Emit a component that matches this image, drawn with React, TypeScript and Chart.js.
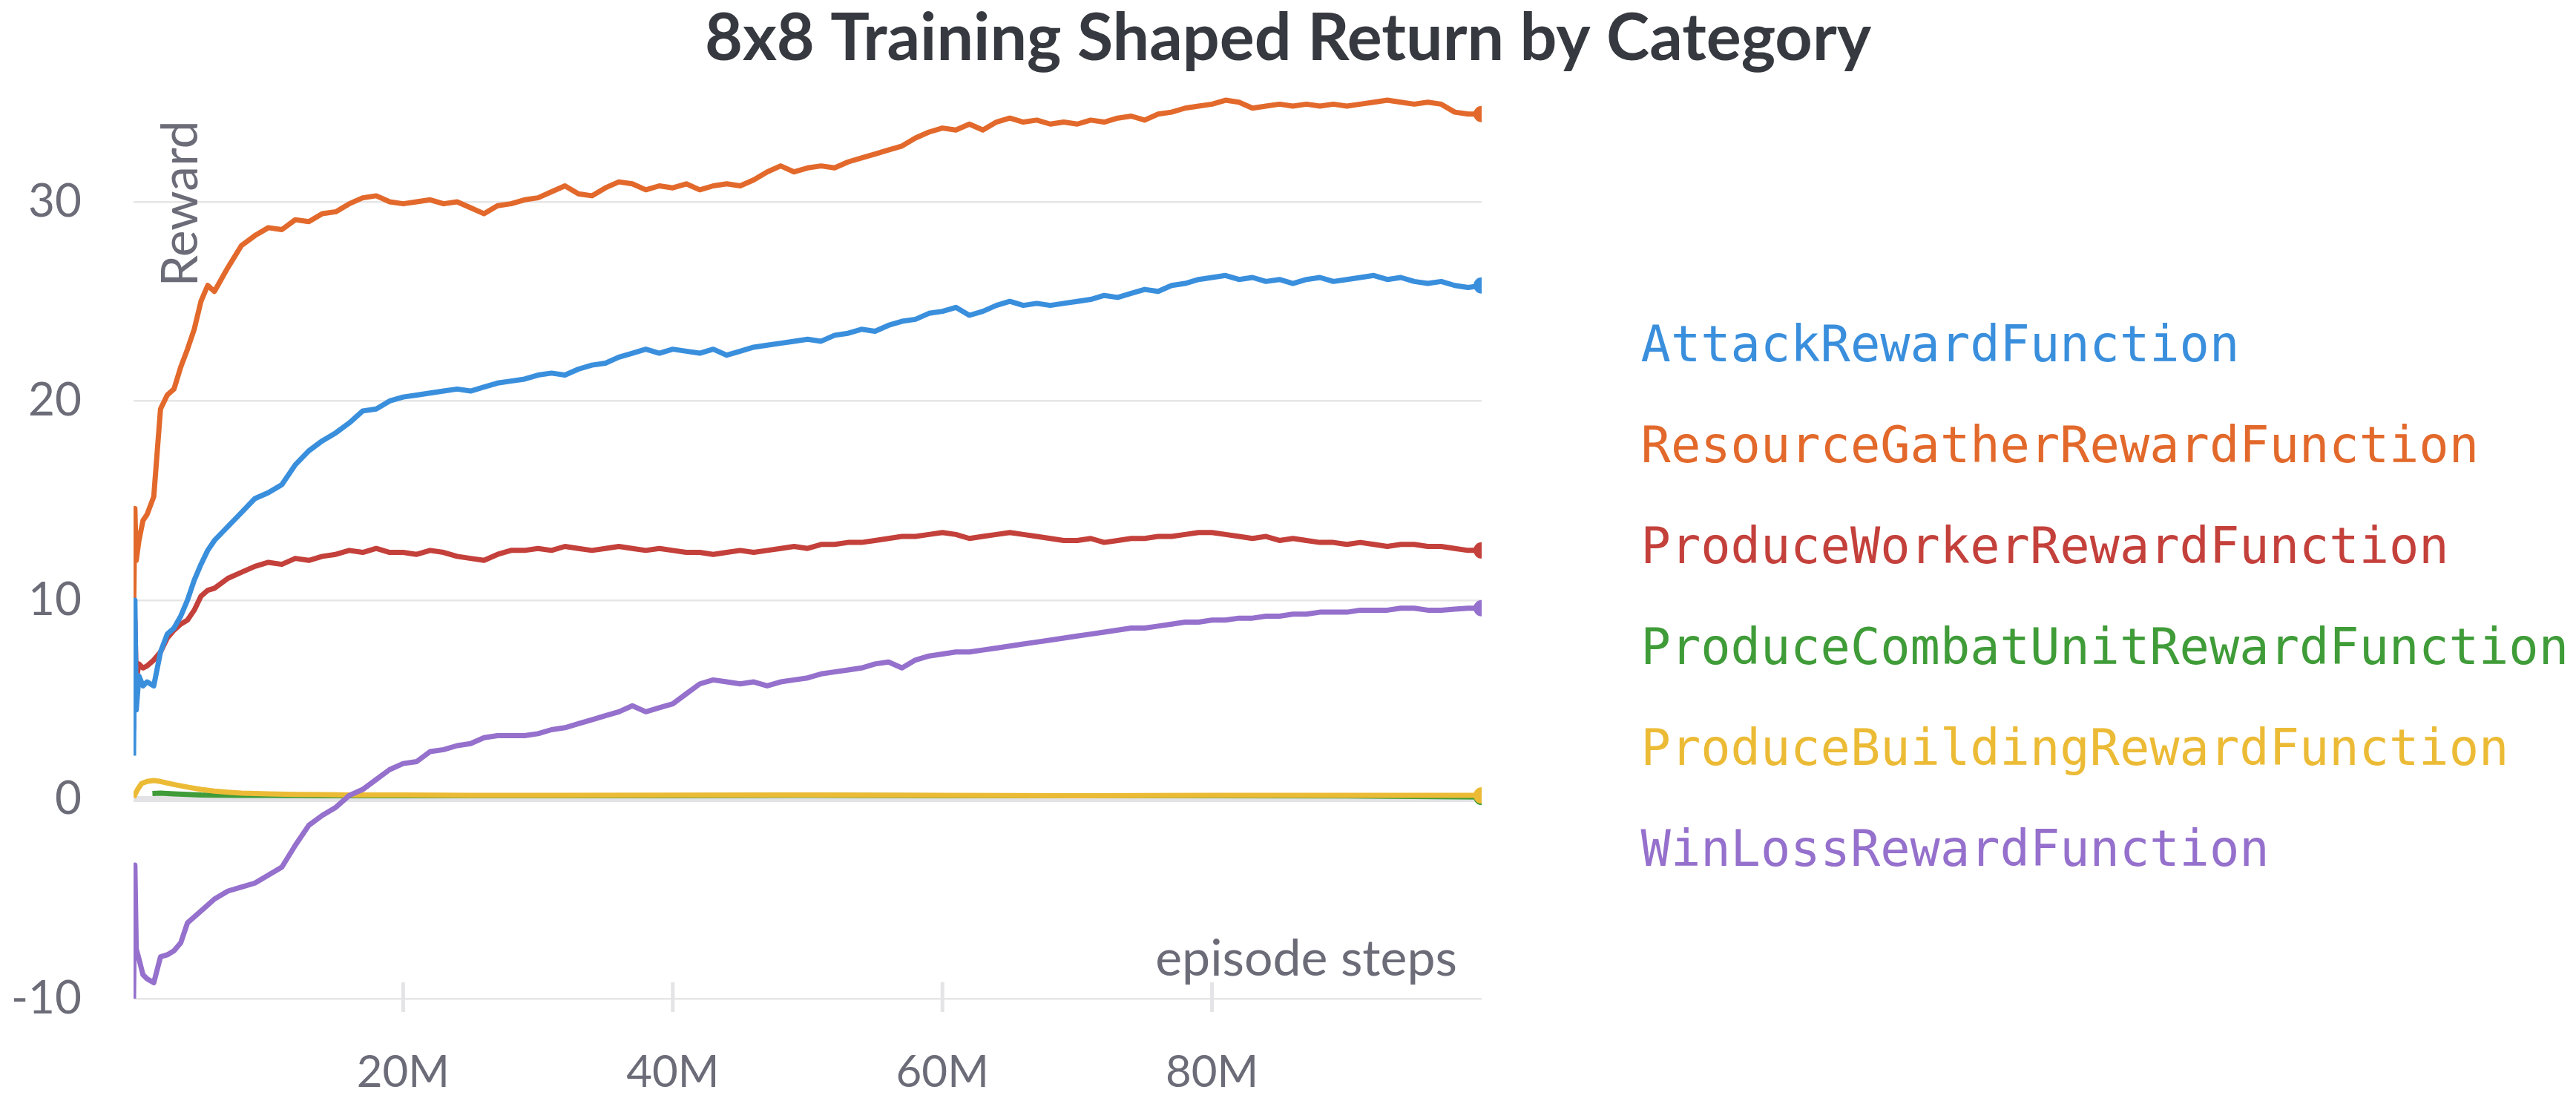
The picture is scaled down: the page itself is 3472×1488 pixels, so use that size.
import React, { useEffect, useRef } from 'react';
import { Chart, registerables } from 'chart.js';

Chart.register(...registerables);

// episode steps, in millions
const steps = [
  0, 0.1, 0.2, 0.4, 0.7, 1, 1.5, 2, 2.5, 3, 3.5, 4, 4.5, 5, 5.5, 6,
  7, 8, 9, 10, 11, 12, 13, 14, 15, 16, 17, 18, 19, 20,
  21, 22, 23, 24, 25, 26, 27, 28, 29, 30,
  31, 32, 33, 34, 35, 36, 37, 38, 39, 40,
  41, 42, 43, 44, 45, 46, 47, 48, 49, 50,
  51, 52, 53, 54, 55, 56, 57, 58, 59, 60,
  61, 62, 63, 64, 65, 66, 67, 68, 69, 70,
  71, 72, 73, 74, 75, 76, 77, 78, 79, 80,
  81, 82, 83, 84, 85, 86, 87, 88, 89, 90,
  91, 92, 93, 94, 95, 96, 97, 98, 99, 100,
];

const attack = [
  2.2, 10.0, 4.5, 6.2, 5.7, 5.9, 5.7, 7.4, 8.3, 8.6, 9.2, 10.0, 11.0, 11.8, 12.5, 13.0,
  13.7, 14.4, 15.1, 15.4, 15.8, 16.8, 17.5, 18.0, 18.4, 18.9, 19.5, 19.6, 20.0, 20.2,
  20.3, 20.4, 20.5, 20.6, 20.5, 20.7, 20.9, 21.0, 21.1, 21.3,
  21.4, 21.3, 21.6, 21.8, 21.9, 22.2, 22.4, 22.6, 22.4, 22.6,
  22.5, 22.4, 22.6, 22.3, 22.5, 22.7, 22.8, 22.9, 23.0, 23.1,
  23.0, 23.3, 23.4, 23.6, 23.5, 23.8, 24.0, 24.1, 24.4, 24.5,
  24.7, 24.3, 24.5, 24.8, 25.0, 24.8, 24.9, 24.8, 24.9, 25.0,
  25.1, 25.3, 25.2, 25.4, 25.6, 25.5, 25.8, 25.9, 26.1, 26.2,
  26.3, 26.1, 26.2, 26.0, 26.1, 25.9, 26.1, 26.2, 26.0, 26.1,
  26.2, 26.3, 26.1, 26.2, 26.0, 25.9, 26.0, 25.8, 25.7, 25.8,
];

const resourceGather = [
  9.0, 14.6, 12.0, 13.0, 14.0, 14.3, 15.2, 19.6, 20.3, 20.6, 21.7, 22.6, 23.6, 25.0, 25.8, 25.5,
  26.7, 27.8, 28.3, 28.7, 28.6, 29.1, 29.0, 29.4, 29.5, 29.9, 30.2, 30.3, 30.0, 29.9,
  30.0, 30.1, 29.9, 30.0, 29.7, 29.4, 29.8, 29.9, 30.1, 30.2,
  30.5, 30.8, 30.4, 30.3, 30.7, 31.0, 30.9, 30.6, 30.8, 30.7,
  30.9, 30.6, 30.8, 30.9, 30.8, 31.1, 31.5, 31.8, 31.5, 31.7,
  31.8, 31.7, 32.0, 32.2, 32.4, 32.6, 32.8, 33.2, 33.5, 33.7,
  33.6, 33.9, 33.6, 34.0, 34.2, 34.0, 34.1, 33.9, 34.0, 33.9,
  34.1, 34.0, 34.2, 34.3, 34.1, 34.4, 34.5, 34.7, 34.8, 34.9,
  35.1, 35.0, 34.7, 34.8, 34.9, 34.8, 34.9, 34.8, 34.9, 34.8,
  34.9, 35.0, 35.1, 35.0, 34.9, 35.0, 34.9, 34.5, 34.4, 34.4,
];

const produceWorker = [
  3.5, 9.0, 6.0, 6.8, 6.6, 6.7, 7.0, 7.4, 8.1, 8.5, 8.8, 9.0, 9.5, 10.2, 10.5, 10.6,
  11.1, 11.4, 11.7, 11.9, 11.8, 12.1, 12.0, 12.2, 12.3, 12.5, 12.4, 12.6, 12.4, 12.4,
  12.3, 12.5, 12.4, 12.2, 12.1, 12.0, 12.3, 12.5, 12.5, 12.6,
  12.5, 12.7, 12.6, 12.5, 12.6, 12.7, 12.6, 12.5, 12.6, 12.5,
  12.4, 12.4, 12.3, 12.4, 12.5, 12.4, 12.5, 12.6, 12.7, 12.6,
  12.8, 12.8, 12.9, 12.9, 13.0, 13.1, 13.2, 13.2, 13.3, 13.4,
  13.3, 13.1, 13.2, 13.3, 13.4, 13.3, 13.2, 13.1, 13.0, 13.0,
  13.1, 12.9, 13.0, 13.1, 13.1, 13.2, 13.2, 13.3, 13.4, 13.4,
  13.3, 13.2, 13.1, 13.2, 13.0, 13.1, 13.0, 12.9, 12.9, 12.8,
  12.9, 12.8, 12.7, 12.8, 12.8, 12.7, 12.7, 12.6, 12.5, 12.5,
];

const winLoss = [
  -10.0, -3.3, -7.5, -8.0, -8.8, -9.0, -9.2, -7.9, -7.8, -7.6, -7.2, -6.2, -5.9, -5.6, -5.3, -5.0,
  -4.6, -4.4, -4.2, -3.8, -3.4, -2.3, -1.3, -0.8, -0.4, 0.2, 0.5, 1.0, 1.5, 1.8,
  1.9, 2.4, 2.5, 2.7, 2.8, 3.1, 3.2, 3.2, 3.2, 3.3,
  3.5, 3.6, 3.8, 4.0, 4.2, 4.4, 4.7, 4.4, 4.6, 4.8,
  5.3, 5.8, 6.0, 5.9, 5.8, 5.9, 5.7, 5.9, 6.0, 6.1,
  6.3, 6.4, 6.5, 6.6, 6.8, 6.9, 6.6, 7.0, 7.2, 7.3,
  7.4, 7.4, 7.5, 7.6, 7.7, 7.8, 7.9, 8.0, 8.1, 8.2,
  8.3, 8.4, 8.5, 8.6, 8.6, 8.7, 8.8, 8.9, 8.9, 9.0,
  9.0, 9.1, 9.1, 9.2, 9.2, 9.3, 9.3, 9.4, 9.4, 9.4,
  9.5, 9.5, 9.5, 9.6, 9.6, 9.5, 9.5, 9.55, 9.6, 9.6,
];

const combatSteps = [1.4, 2, 3, 4, 5, 6, 8, 10, 14, 20, 30, 40, 50, 60, 70, 80, 90, 100];
const produceCombat = [0.3, 0.32, 0.28, 0.25, 0.22, 0.21, 0.2, 0.2, 0.19, 0.19, 0.19, 0.19, 0.2, 0.19, 0.19, 0.19, 0.18, 0.12];

const buildingSteps = [0, 0.3, 0.6, 1, 1.5, 2, 3, 4, 5, 6, 7, 8, 10, 12, 14, 16, 20, 25, 30, 40, 50, 60, 70, 80, 90, 100];
const produceBuilding = [0.1, 0.5, 0.8, 0.9, 0.95, 0.9, 0.75, 0.62, 0.5, 0.42, 0.36, 0.32, 0.28, 0.25, 0.24, 0.22, 0.22, 0.2, 0.2, 0.21, 0.22, 0.2, 0.19, 0.2, 0.2, 0.2];

const xTicks = [20, 40, 60, 80];
const yTicks = [-10, 0, 10, 20, 30];

// order: lower is drawn on top
const series = [
  { label: 'AttackRewardFunction', color: '#3a8fdd', xs: steps, ys: attack, order: 0 },
  { label: 'ResourceGatherRewardFunction', color: '#e2692b', xs: steps, ys: resourceGather, order: 0 },
  { label: 'ProduceWorkerRewardFunction', color: '#c4403b', xs: steps, ys: produceWorker, order: 0 },
  { label: 'ProduceCombatUnitRewardFunction', color: '#3f9c38', xs: combatSteps, ys: produceCombat, order: 3 },
  { label: 'ProduceBuildingRewardFunction', color: '#ecbb36', xs: buildingSteps, ys: produceBuilding, order: 2 },
  { label: 'WinLossRewardFunction', color: '#9570cc', xs: steps, ys: winLoss, order: 1 },
];

const GREY = '#6b6c78';
const SANS = "Lato, 'Noto Sans', sans-serif";
const MONO = "'DejaVu Sans Mono', monospace";

// axis titles drawn inside the plot, plus short tick marks on the x axis
const axisExtras = {
  id: 'axisExtras',
  beforeDatasetsDraw(chart: any) {
    const { ctx, chartArea, scales } = chart;
    ctx.save();
    ctx.strokeStyle = '#e4e4e6';
    ctx.lineWidth = 5;
    for (const v of xTicks) {
      const px = scales.x.getPixelForValue(v);
      ctx.beginPath();
      ctx.moveTo(px, chartArea.bottom - 22);
      ctx.lineTo(px, chartArea.bottom + 18);
      ctx.stroke();
    }
    ctx.fillStyle = GREY;
    ctx.font = `68px ${SANS}`;
    ctx.textBaseline = 'alphabetic';
    ctx.textAlign = 'right';
    ctx.fillText('episode steps', chartArea.right - 33, chartArea.bottom - 31);
    ctx.translate(chartArea.left + 86, chartArea.top + 265);
    ctx.rotate(-Math.PI / 2);
    ctx.textAlign = 'left';
    ctx.fillText('Reward', 0, 0);
    ctx.restore();
  },
};

export default function App() {
  const canvasRef = useRef<HTMLCanvasElement>(null);

  useEffect(() => {
    if (!canvasRef.current) return;
    const chart = new Chart(canvasRef.current, {
      type: 'line',
      data: {
        datasets: series.map((s) => ({
          label: s.label,
          data: s.xs.map((x, i) => ({ x, y: s.ys[i] })),
          order: s.order,
          borderColor: s.color,
          backgroundColor: s.color,
          borderWidth: 7,
          borderJoinStyle: 'round' as const,
          tension: 0,
          pointRadius: (c: any) => (c.dataIndex === s.xs.length - 1 ? 11 : 0),
          pointBorderWidth: 0,
          pointHoverRadius: 0,
        })),
      },
      options: {
        responsive: false,
        animation: false,
        devicePixelRatio: 1,
        layout: { padding: 0 },
        plugins: {
          title: {
            display: true,
            text: '8x8 Training Shaped Return by Category',
            color: '#363a40',
            font: { family: SANS, size: 88, weight: 'bold' },
            padding: { top: 0, bottom: 16 },
          },
          legend: {
            position: 'right',
            align: 'center',
            maxWidth: 2000,
            title: { display: true, text: ' ', padding: { top: 25, bottom: 25 }, font: { family: MONO, size: 67 } },
            labels: {
              boxWidth: 112,
              boxHeight: 0,
              padding: 69,
              font: { family: MONO, size: 67 },
              generateLabels: (c: any) =>
                c.data.datasets.map((ds: any, i: number) => ({
                  text: ds.label,
                  fontColor: ds.borderColor,
                  fillStyle: 'rgba(0,0,0,0)',
                  strokeStyle: 'rgba(0,0,0,0)',
                  lineWidth: 0,
                  hidden: false,
                  datasetIndex: i,
                })),
            },
          },
          tooltip: { enabled: false },
        },
        scales: {
          x: {
            type: 'linear',
            min: 0,
            max: 100,
            grid: { display: false, drawTicks: false },
            border: { display: false },
            afterBuildTicks: (s: any) => {
              s.ticks = xTicks.map((value) => ({ value }));
            },
            afterFit: (s: any) => {
              s.height = 142;
            },
            ticks: {
              color: GREY,
              font: { family: SANS, size: 60 },
              padding: 64,
              maxRotation: 0,
              autoSkip: false,
              callback: (v: any) => `${v}M`,
            },
          },
          y: {
            type: 'linear',
            min: -10,
            max: 35.6,
            grid: {
              drawTicks: false,
              color: (c: any) => (c.tick && c.tick.value === 0 ? '#e3e3e5' : '#e6e6e6'),
              lineWidth: (c: any) => (c.tick && c.tick.value === 0 ? 8 : 2.5),
            },
            border: { display: false },
            afterBuildTicks: (s: any) => {
              s.ticks = yTicks.map((value) => ({ value }));
            },
            afterFit: (s: any) => {
              s.width = 180;
            },
            ticks: {
              color: GREY,
              font: { family: SANS, size: 62 },
              padding: 70,
            },
          },
        },
      },
      plugins: [axisExtras],
    });
    return () => chart.destroy();
  }, []);

  return (
    <div style={{ position: 'fixed', left: 0, top: 0, width: 3472, height: 1488, background: '#fff' }}>
      <canvas ref={canvasRef} width={3472} height={1488} style={{ display: 'block' }} />
    </div>
  );
}
